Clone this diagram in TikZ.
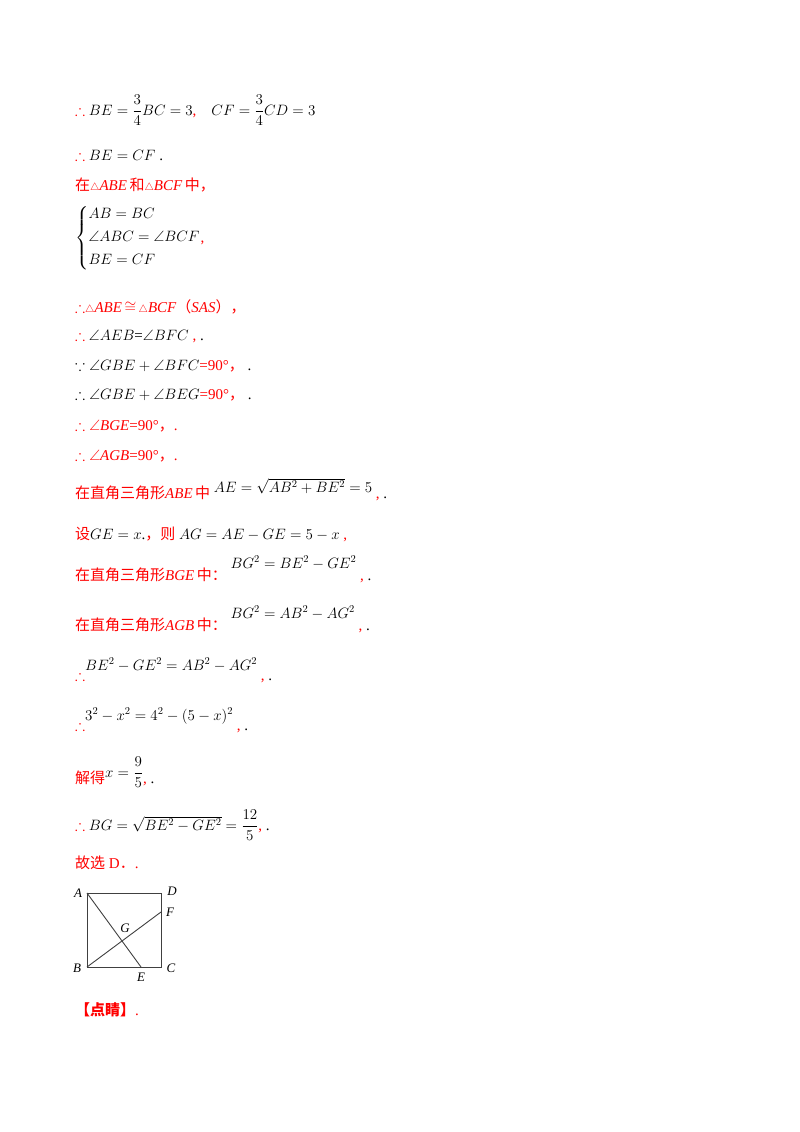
\RequirePackage{fix-cm}
\documentclass[tikz,border=0pt]{standalone}
\usepackage{amsmath,amssymb}
\usepackage{fontspec}
\setmainfont{Liberation Serif}
\newfontfamily\cjk{Noto Sans CJK SC}
\begin{document}
\begin{tikzpicture}[x=1pt,y=-1pt,
  every node/.style={inner sep=0pt,anchor=base west,font=\fontsize{15}{18}\selectfont},
  rd/.style={text=red},
  lbl/.style={font=\fontsize{13}{15}\selectfont\itshape,anchor=center},
  sq/.style={draw=black!75,line width=0.9pt}]
\useasboundingbox (0,0) rectangle (800,1132);
\node (l1) at (75,115) {\textcolor{red}{$\therefore$} $BE=\dfrac{3}{4}BC=3$\textcolor{red}{,}\quad $CF=\dfrac{3}{4}CD=3$};
\node (l2) at (75,160) {\textcolor{red}{$\therefore$} $BE=CF$ .};
\node[rd] (l3) at (75,190) {{\cjk 在}$\scriptstyle\triangle$\textit{ABE}\,{\cjk 和}$\scriptstyle\triangle$\textit{BCF}\,{\cjk 中，}};
\node (l4) at (75,242) {$\left\{\begin{aligned}&AB=BC\\[2pt]&\angle ABC=\angle BCF\\[2pt]&BE=CF\end{aligned}\right.$\textcolor{red}{,}};
\node[rd] (l5) at (75,312) {$\therefore\scriptstyle\triangle$\textit{ABE}\,$\cong$\,$\scriptstyle\triangle$\textit{BCF}{\cjk（}\textit{SAS}{\cjk ），}};
\node (l6) at (75,340) {\textcolor{red}{$\therefore$} $\angle AEB$=$\angle BFC$ \textcolor{red}{,} .};
\node (l7) at (75,370) {$\because\angle GBE+\angle BFC$\textcolor{red}{=90°{\cjk ，}} .};
\node (l8) at (75,399) {$\therefore\angle GBE+\angle BEG$\textcolor{red}{=90°{\cjk ，}} .};
\node[rd] (l9) at (75,430) {$\therefore\angle$\textit{BGE}=90°{\cjk ，}.};
\node[rd] (l10) at (75,460) {$\therefore\angle$\textit{AGB}=90°{\cjk ，}.};
\node (l11) at (75,498) {\textcolor{red}{{\cjk 在直角三角形}\textit{ABE}\,{\cjk 中}} \raisebox{6pt}{$AE=\sqrt{AB^2+BE^2}=5$} \textcolor{red}{,} .};
\node (l12) at (75,539) {\textcolor{red}{\cjk 设}$GE=x$.\textcolor{red}{{\cjk ，则}} $AG=AE-GE=5-x$ \textcolor{red}{,}};
\node (l13) at (75,580) {\textcolor{red}{{\cjk 在直角三角形}\textit{BGE}\,{\cjk 中：}}\ \raisebox{12pt}{$BG^2=BE^2-GE^2$}\ \textcolor{red}{,} .};
\node (l14) at (75,630) {\textcolor{red}{{\cjk 在直角三角形}\textit{AGB}\,{\cjk 中：}}\ \raisebox{12pt}{$BG^2=AB^2-AG^2$}\ \textcolor{red}{,} .};
\node (l15) at (75,680) {\textcolor{red}{$\therefore$}\raisebox{10pt}{$BE^2-GE^2=AB^2-AG^2$}\ \textcolor{red}{,} .};
\node (l16) at (75,730) {\textcolor{red}{$\therefore$}\raisebox{10pt}{$3^2-x^2=4^2-(5-x)^2$}\ \textcolor{red}{,} .};
\node (l17) at (75,783) {\textcolor{red}{\cjk 解得}\raisebox{6pt}{$x=\dfrac{9}{5}$}\textcolor{red}{,} .};
\node (l18) at (75,830) {\textcolor{red}{$\therefore$} $BG=\sqrt{BE^2-GE^2}=\dfrac{12}{5}$\textcolor{red}{,} .};
\node[rd] (l19) at (75,868) {{\cjk 故选} D{\cjk ．}.};
\node[rd] (l20) at (75,1015) {\textbf{\cjk 【点睛】}.};
% figure
\coordinate (A) at (87,893); \coordinate (D) at (161,893);
\coordinate (B) at (87,967); \coordinate (C) at (161,967);
\coordinate (E) at (141,967); \coordinate (F) at (161,912);
\draw[sq] (A) rectangle (C);
\draw[sq] (A) -- (E); \draw[sq] (B) -- (F);
\node[lbl] (tA) at (78,893) {A}; \node[lbl] (tD) at (172,891) {D};
\node[lbl] (tB) at (77,968) {B}; \node[lbl] (tC) at (171,968) {C};
\node[lbl] (tE) at (141,977) {E}; \node[lbl] (tF) at (170,912) {F};
\node[lbl] (tG) at (125,928) {G};
\end{tikzpicture}
\end{document}
